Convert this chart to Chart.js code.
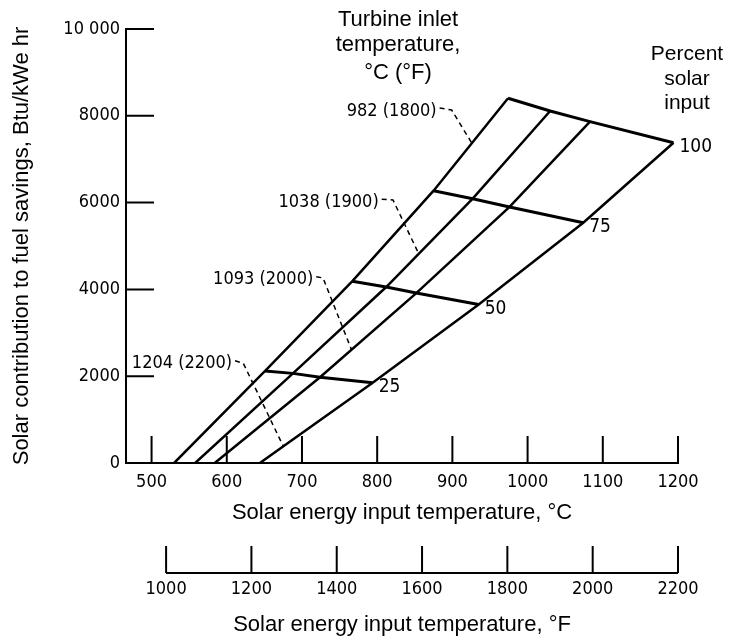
<!DOCTYPE html>
<html>
<head>
<meta charset="utf-8">
<script src="https://cdn.jsdelivr.net/npm/chart.js@4.4.1/dist/chart.umd.min.js"></script>
<style>
  body { margin: 0; background: #fff; }
  #wrap { width: 736px; height: 638px; }
</style>
</head>
<body>
<div id="wrap"><canvas id="fuel-chart"></canvas></div>
<script>
// turbine inlet temperature, C (F)
var inletLabels = ["982 (1800)", "1038 (1900)", "1093 (2000)", "1204 (2200)"];
var percentSolar = [0, 25, 50, 75, 100];
// solar energy input temperature (C) at 0/25/50/75/100 percent solar input
var temp982 = [530, 651, 767, 875, 974];
var temp1038 = [558, 688, 812, 927, 1030];
var temp1093 = [584, 724, 852, 976, 1083];
var temp1204 = [644, 794, 935, 1074, 1194];
// solar contribution to fuel savings, Btu/kWe hr
var save982 = [0, 2120, 4190, 6275, 8405];
var save1038 = [0, 2065, 4055, 6090, 8110];
var save1093 = [0, 1975, 3915, 5900, 7865];
var save1204 = [0, 1850, 3650, 5535, 7380];
// dashed leaders from the labels to the curves
var leaderTemp = [[883, 899, 926], [806, 821, 855], [719, 728, 766], [611, 622, 675]];
var leaderSave = [[8180, 8135, 7366], [6076, 6060, 4832], [4293, 4263, 2604], [2357, 2297, 392]];

var cTicks = [500, 600, 700, 800, 900, 1000, 1100, 1200];
var fTicks = [1000, 1200, 1400, 1600, 1800, 2000, 2200];
var yTicks = [0, 2000, 4000, 6000, 8000, 10000];
var yTickLabels = ["0", "2000", "4000", "6000", "8000", "10 000"];

function hasFont(name) {
  var c = document.createElement('canvas').getContext('2d');
  c.font = '40px monospace';
  var w0 = c.measureText('8000 abcdefg').width;
  c.font = '40px "' + name + '", monospace';
  return c.measureText('8000 abcdefg').width !== w0;
}
var narrow = hasFont('Liberation Sans Narrow');
var numFamily = narrow ? '"Liberation Sans Narrow"' : '"DejaVu Sans Condensed"';
var numSize = narrow ? 21 : 18;
var txtFamily = '"Liberation Sans", Arial, sans-serif';

var tempLines = [temp982, temp1038, temp1093, temp1204];
var saveLines = [save982, save1038, save1093, save1204];

function pts(xs, ys) {
  return xs.map(function (x, i) { return {x: x, y: ys[i]}; });
}

var datasets = [];
tempLines.forEach(function (t, k) {
  datasets.push({ data: pts(t, saveLines[k]), borderColor: '#000', borderWidth: 2.5 });
});
// percent solar input cross lines
for (var p = 1; p < percentSolar.length; p++) {
  datasets.push({
    data: tempLines.map(function (t, k) { return {x: t[p], y: saveLines[k][p]}; }),
    borderColor: '#000', borderWidth: 3
  });
}
leaderTemp.forEach(function (t, k) {
  datasets.push({ data: pts(t, leaderSave[k]), borderColor: '#000', borderWidth: 1.5, borderDash: [5, 4] });
});

var annotate = {
  id: 'annotate',
  afterDraw: function (chart) {
    var ctx = chart.ctx, x = chart.scales.x, y = chart.scales.y, xF = chart.scales.xF, a = chart.chartArea;
    ctx.save();
    ctx.strokeStyle = '#000';
    ctx.fillStyle = '#000';
    ctx.lineWidth = 2;
    ctx.beginPath();
    // inward tick marks
    yTicks.forEach(function (v) {
      var py = y.getPixelForValue(v);
      ctx.moveTo(a.left, py); ctx.lineTo(a.left + 28, py);
    });
    cTicks.forEach(function (v) {
      var px = x.getPixelForValue(v);
      ctx.moveTo(px, a.bottom); ctx.lineTo(px, a.bottom - 27);
    });
    fTicks.forEach(function (v) {
      var px = xF.getPixelForValue(v);
      ctx.moveTo(px, xF.top); ctx.lineTo(px, xF.top - 27);
    });
    ctx.moveTo(xF.getPixelForValue(fTicks[0]), xF.top);
    ctx.lineTo(xF.getPixelForValue(fTicks[fTicks.length - 1]), xF.top);
    ctx.stroke();

    ctx.textBaseline = 'middle';
    // labels of the inlet temperature curves
    ctx.font = numSize + 'px ' + numFamily;
    ctx.textAlign = 'right';
    inletLabels.forEach(function (s, k) {
      ctx.fillText(s, x.getPixelForValue(leaderTemp[k][0]) - 3, y.getPixelForValue(leaderSave[k][0]) + 3);
    });
    // percent labels at the end of each cross line
    ctx.textAlign = 'left';
    ctx.font = (numSize + 1) + 'px ' + numFamily;
    for (var p = 1; p < percentSolar.length; p++) {
      ctx.fillText(String(percentSolar[p]), x.getPixelForValue(temp1204[p]) + 6, y.getPixelForValue(save1204[p]) + 4);
    }
    // headings
    ctx.textAlign = 'center';
    ctx.font = '22px ' + txtFamily;
    ['Turbine inlet', 'temperature,', '\u00b0C (\u00b0F)'].forEach(function (s, i) {
      ctx.fillText(s, 398, [20, 45, 73][i]);
    });
    ctx.font = '21px ' + txtFamily;
    ['Percent', 'solar', 'input'].forEach(function (s, i) {
      ctx.fillText(s, 687, [54, 79, 103][i]);
    });
    ctx.restore();
  }
};

new Chart(document.getElementById('fuel-chart'), {
  type: 'scatter',
  data: { datasets: datasets },
  options: {
    responsive: true,
    maintainAspectRatio: false,
    animation: false,
    showLine: true,
    layout: { padding: { left: 8, right: 58, top: 29, bottom: 0 } },
    elements: { point: { radius: 0, hoverRadius: 0 }, line: { tension: 0 } },
    plugins: { legend: { display: false }, tooltip: { enabled: false } },
    scales: {
      x: {
        type: 'linear', position: 'bottom', weight: 0,
        min: 466, max: 1200,
        afterBuildTicks: function (s) { s.ticks = cTicks.map(function (v) { return {value: v}; }); },
        afterFit: function (s) { s.height = 110; },
        grid: { display: true, drawOnChartArea: false, drawTicks: false },
        border: { display: true, color: '#000', width: 2 },
        ticks: {
          color: '#000', padding: 9, maxRotation: 0, autoSkip: false,
          font: { family: numFamily, size: numSize },
          callback: function (v) { return String(v); }
        },
        title: {
          display: true, text: 'Solar energy input temperature, \u00b0C', color: '#000',
          font: { family: txtFamily, size: 22 }, padding: { top: 0, bottom: 47 }
        }
      },
      xF: {
        type: 'linear', position: 'bottom', weight: 1,
        min: 906, max: 2200,
        afterBuildTicks: function (s) { s.ticks = fTicks.map(function (v) { return {value: v}; }); },
        afterFit: function (s) { s.height = 65; },
        grid: { display: true, drawOnChartArea: false, drawTicks: false },
        border: { display: false },
        ticks: {
          color: '#000', padding: 6, maxRotation: 0, autoSkip: false,
          font: { family: numFamily, size: numSize },
          callback: function (v) { return String(v); }
        },
        title: {
          display: true, text: 'Solar energy input temperature, \u00b0F', color: '#000',
          font: { family: txtFamily, size: 22 }, padding: { top: 0, bottom: 0 }
        }
      },
      y: {
        type: 'linear', min: 0, max: 10000,
        afterBuildTicks: function (s) { s.ticks = yTicks.map(function (v) { return {value: v}; }); },
        afterFit: function (s) { s.width = 118; },
        grid: { display: true, drawOnChartArea: false, drawTicks: false },
        border: { display: true, color: '#000', width: 2 },
        ticks: {
          color: '#000', padding: 6, autoSkip: false,
          font: { family: numFamily, size: numSize },
          callback: function (v) { return yTickLabels[yTicks.indexOf(v)]; }
        },
        title: {
          display: true, text: 'Solar contribution to fuel savings, Btu/kWe hr', color: '#000',
          font: { family: txtFamily, size: 22 }, padding: { top: 1, bottom: 0 }
        }
      }
    }
  },
  plugins: [annotate]
});
</script>
</body>
</html>
